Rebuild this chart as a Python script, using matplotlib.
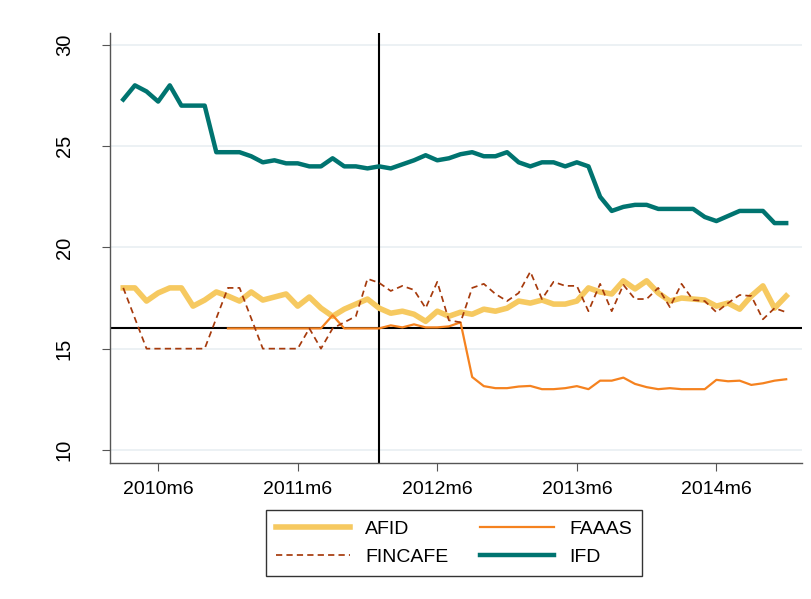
import matplotlib
matplotlib.use("Agg")
import matplotlib.pyplot as plt
import numpy as np
import pandas as pd

# monthly series, 2010m3 .. 2014m12
months = pd.period_range("2010-03", "2014-12", freq="M")

afid = [18.0, 18.0, 17.35, 17.75, 18.0, 18.0, 17.1, 17.4, 17.8, 17.6,
        17.35, 17.8, 17.4, 17.55, 17.7, 17.1, 17.55, 17.0, 16.6, 16.95,
        17.2, 17.45, 17.0, 16.75, 16.85, 16.7, 16.35, 16.85, 16.6, 16.8,
        16.7, 16.95, 16.85, 17.0, 17.35, 17.25, 17.4, 17.2, 17.2, 17.35,
        18.0, 17.8, 17.7, 18.35, 17.95, 18.35, 17.75, 17.35, 17.5, 17.45,
        17.4, 17.1, 17.25, 16.95, 17.6, 18.1, 17.0, 17.6]

faaas = [np.nan] * 9 + [
        16.0, 16.0, 16.0, 16.0, 16.0, 16.0, 16.0, 16.0, 16.0, 16.65,
        16.0, 16.0, 16.0, 16.0, 16.15, 16.05, 16.2, 16.05, 16.05, 16.1,
        16.3, 13.6, 13.15, 13.05, 13.05, 13.13, 13.16, 13.0, 13.0, 13.05,
        13.15, 13.0, 13.42, 13.42, 13.57, 13.26, 13.1, 13.0, 13.05, 13.0,
        13.0, 13.0, 13.46, 13.39, 13.42, 13.21, 13.29, 13.42, 13.49]

fincafe = [18.0, 16.5, 15.0, 15.0, 15.0, 15.0, 15.0, 15.0, 16.5, 18.0,
           18.0, 16.5, 15.0, 15.0, 15.0, 15.0, 16.0, 15.0, 16.0, 16.3,
           16.6, 18.45, 18.25, 17.85, 18.1, 17.9, 17.0, 18.3, 16.4, 16.3,
           18.0, 18.2, 17.7, 17.35, 17.75, 18.8, 17.45, 18.3, 18.1, 18.1,
           16.85, 18.2, 16.85, 18.15, 17.45, 17.45, 18.0, 17.05, 18.2, 17.4,
           17.35, 16.8, 17.25, 17.65, 17.6, 16.45, 17.0, 16.8]

ifd = [27.3, 28.0, 27.7, 27.2, 28.0, 27.0, 27.0, 27.0, 24.7, 24.7,
       24.7, 24.5, 24.2, 24.3, 24.15, 24.15, 24.0, 24.0, 24.4, 24.0,
       24.0, 23.9, 24.0, 23.9, 24.1, 24.3, 24.55, 24.3, 24.4, 24.6,
       24.7, 24.5, 24.5, 24.7, 24.2, 24.0, 24.2, 24.2, 24.0, 24.2,
       24.0, 22.5, 21.8, 22.0, 22.1, 22.1, 21.9, 21.9, 21.9, 21.9,
       21.5, 21.3, 21.55, 21.8, 21.8, 21.8, 21.2, 21.2]

tick_months = ["2010-06", "2011-06", "2012-06", "2013-06", "2014-06"]
yticks = [10, 15, 20, 25, 30]
vline_month = "2012-01"
hline_value = 16

plt.rcParams['font.family'] = ['Liberation Sans', 'DejaVu Sans']

x = np.arange(len(months))
start = months[0]


def month_pos(m):
    return (pd.Period(m, freq="M") - start).n


fig = plt.figure(figsize=(8.11, 5.99), dpi=100)
ax = fig.add_axes([110 / 811, 1 - 463.3 / 599, 692 / 811, 430.6 / 599])

for yv in yticks:
    ax.axhline(yv, color='#e9eff2', lw=1.2, zorder=0)

ax.axhline(hline_value, color='black', lw=1.5, zorder=1)
ax.axvline(month_pos(vline_month), color='black', lw=1.5, zorder=1)

l_afid, = ax.plot(x, afid, color='#f6c960', lw=4.0, label='AFID', zorder=2)
l_faaas, = ax.plot(x, faaas, color='#f5821f', lw=1.6, label='FAAAS', zorder=3)
l_fin, = ax.plot(x, fincafe, color='#a63a0c', lw=1.25, ls=(0, (3.6, 2.4)),
                 label='FINCAFE', zorder=4)
l_ifd, = ax.plot(x, ifd, color='#007470', lw=3.2, label='IFD', zorder=5)

ax.set_xlim(-1.14, 58.36)
ax.set_ylim(9.34, 30.6)

ax.set_xticks([month_pos(m) for m in tick_months])
ax.set_xticklabels([f"{pd.Period(m, freq='M').year}m{pd.Period(m, freq='M').month}"
                    for m in tick_months], fontsize=14)
ax.set_yticks(yticks)
ax.set_yticklabels([str(v) for v in yticks], fontsize=14.5, rotation=90, va='center')

for s in ['top', 'right']:
    ax.spines[s].set_visible(False)
for s in ['left', 'bottom']:
    ax.spines[s].set_color('#555555')
    ax.spines[s].set_linewidth(1.0)
ax.tick_params(axis='x', length=6, width=0.8, color='#555555', pad=7)
ax.tick_params(axis='y', length=6, width=0.8, color='#555555', pad=20)

leg = fig.legend(handles=[l_afid, l_fin, l_faaas, l_ifd], ncol=2,
                 loc='center', bbox_to_anchor=(454 / 811, 1 - 543 / 599),
                 fontsize=14, frameon=True, fancybox=False, handlelength=3.8,
                 columnspacing=1.6, handletextpad=0.8, borderpad=0.5,
                 labelspacing=0.55)
leg.get_frame().set_edgecolor('black')
leg.get_frame().set_linewidth(1.0)

fig.savefig('out.png', dpi=100)
